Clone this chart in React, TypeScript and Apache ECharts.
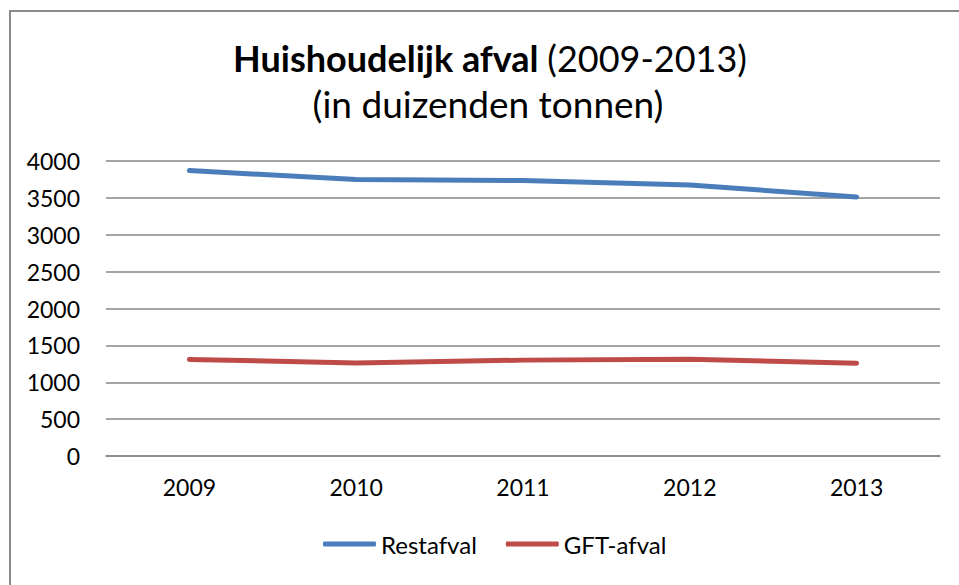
import React, { useEffect, useRef } from "react";
import * as echarts from "echarts";

const years = ["2009", "2010", "2011", "2012", "2013"];
const restafval = [3870, 3748, 3735, 3675, 3512];
const gftAfval = [1310, 1262, 1300, 1312, 1258];
const seriesNames = ["Restafval", "GFT-afval"];
const titleBold = "Huishoudelijk afval";
const titleNormal = "(2009-2013)";
const subtitle = "(in duizenden tonnen)";

const FONT = "Lato, 'Open Sans', sans-serif";

export default function App() {
  const ref = useRef<HTMLDivElement>(null);
  useEffect(() => {
    if (!ref.current) return;
    const chart = echarts.init(ref.current, undefined, { renderer: "svg" });
    chart.setOption({
      animation: false,
      backgroundColor: "#ffffff",
      textStyle: { fontFamily: FONT },
      graphic: [
        {
          type: "polyline",
          shape: { points: [[10, 600], [10, 11], [970, 11]] },
          style: { stroke: "#8a8a8a", lineWidth: 2, fill: "none" },
          silent: true,
        },
        {
          type: "text",
          x: 490,
          y: 58,
          style: {
            text: `{b|${titleBold}\u00a0}{n|${titleNormal}}`,
            align: "center",
            verticalAlign: "middle",
            rich: {
              b: { fontFamily: FONT, fontSize: 36, fontWeight: "bold", fill: "#000" },
              n: { fontFamily: FONT, fontSize: 36, fill: "#000" },
            },
          },
        },
        {
          type: "text",
          x: 488,
          y: 103,
          style: {
            text: subtitle,
            align: "center",
            verticalAlign: "middle",
            fontFamily: FONT,
            fontSize: 37,
            fill: "#000",
          },
        },
      ],
      legend: {
        data: seriesNames,
        bottom: 24,
        left: 318,
        icon: "roundRect",
        itemWidth: 53,
        itemHeight: 5,
        itemGap: 29,
        textStyle: { fontFamily: FONT, fontSize: 24, color: "#000" },
      },
      grid: { left: 106, right: 19, top: 161, bottom: 129 },
      xAxis: {
        type: "category",
        data: years,
        boundaryGap: true,
        axisLine: { lineStyle: { color: "#868686", width: 1.5 } },
        axisTick: { show: false },
        axisLabel: { fontFamily: FONT, fontSize: 23, color: "#000", margin: 19 },
      },
      yAxis: {
        type: "value",
        min: 0,
        max: 4000,
        interval: 500,
        axisLine: { show: false },
        axisTick: { show: false },
        axisLabel: {
          fontFamily: FONT,
          fontSize: 23,
          color: "#000",
          margin: 26,
          formatter: (v: number) => String(v),
        },
        splitLine: { lineStyle: { color: "#868686", width: 1.5 } },
      },
      series: [
        {
          name: seriesNames[0],
          type: "line",
          data: restafval,
          symbol: "none",
          lineStyle: { color: "#4A7EBB", width: 5, cap: "round" },
          itemStyle: { color: "#4A7EBB" },
        },
        {
          name: seriesNames[1],
          type: "line",
          data: gftAfval,
          symbol: "none",
          lineStyle: { color: "#BE4B48", width: 5, cap: "round" },
          itemStyle: { color: "#BE4B48" },
        },
      ],
    });
    return () => chart.dispose();
  }, []);
  return (
    <div
      ref={ref}
      style={{ position: "fixed", left: 0, top: 0, width: 959, height: 585 }}
    />
  );
}
